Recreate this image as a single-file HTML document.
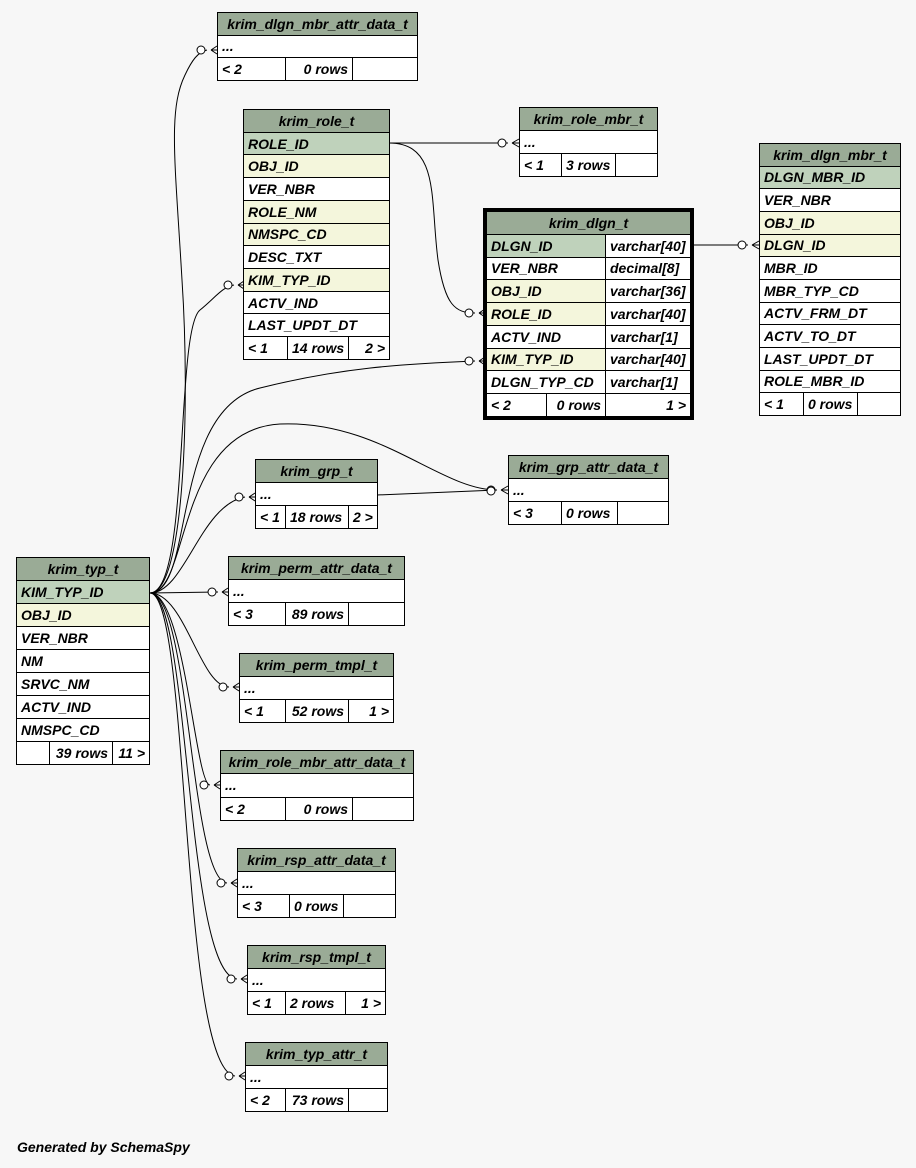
<!DOCTYPE html>
<html><head><meta charset="utf-8"><style>
body{margin:0;width:916px;height:1168px;background:#f7f7f7;position:relative;overflow:hidden;font-family:"Liberation Sans",sans-serif}
table{position:absolute;border-collapse:collapse;background:#fff;font-style:italic;font-weight:bold;font-size:14px;table-layout:fixed}
td{border:1px solid #000;padding:0 0 0 4px;white-space:nowrap;overflow:hidden;line-height:14px}
td.h{background:#9aab96;text-align:center;padding:0}
.pk td,td.pk{background:#bfd2bb}
.fk td,td.fk{background:#f4f6dc}
td.r{text-align:right;padding-right:4px}
.ft{position:absolute;left:17px;top:1139px;font-style:italic;font-weight:bold;font-size:14px}
</style></head><body>
<svg width="916" height="1168" style="position:absolute;left:0;top:0" fill="none" stroke="#000" stroke-width="1">
<path d="M150,593 C185,593 190,400 182,280 C175,160 168,110 185,75 C192,60 198,52 207,50"/>
<path d="M150,593 C190,593 175,330 200,310 C215,298 222,287 234,285"/>
<path d="M150,593 C195,593 170,410 260,388 C340,368 400,364 475,361"/>
<path d="M150,593 C190,593 175,430 280,424 C380,420 440,490 497,490"/>
<path d="M150,593 C185,593 200,505 245,497"/>
<path d="M150,593 L218,592"/>
<path d="M150,593 C185,593 200,687 229,687"/>
<path d="M150,593 C185,593 195,785 210,785"/>
<path d="M150,593 C190,593 190,880 227,883"/>
<path d="M150,593 C190,593 185,975 237,979"/>
<path d="M150,593 C190,593 180,1070 235,1076"/>
<path d="M389,143 L508,143"/>
<path d="M389,143 C440,143 430,200 438,260 C445,305 455,313 475,313"/>
<path d="M693,245 L748,245"/>
<path d="M377,495 L497,490"/>
<g fill="#fff">
<circle cx="201" cy="50" r="4"/><circle cx="228" cy="285" r="4"/><circle cx="469" cy="361" r="4"/><circle cx="491" cy="490" r="4"/><circle cx="239" cy="497" r="4"/><circle cx="212" cy="592" r="4"/><circle cx="223" cy="687" r="4"/><circle cx="204" cy="785" r="4"/><circle cx="221" cy="883" r="4"/><circle cx="231" cy="979" r="4"/><circle cx="229" cy="1076" r="4"/><circle cx="502" cy="143" r="4"/><circle cx="469" cy="313" r="4"/><circle cx="742" cy="245" r="4"/><circle cx="491" cy="491" r="4"/>
</g>
<g>
<path d="M211,50 L217,46 M211,50 L217,50 M211,50 L217,54"/>
<path d="M238,285 L244,281 M238,285 L244,285 M238,285 L244,289"/>
<path d="M479,361 L485,357 M479,361 L485,361 M479,361 L485,365"/>
<path d="M501,490 L508,486 M501,490 L508,490 M501,490 L508,494"/>
<path d="M249,497 L255,493 M249,497 L255,497 M249,497 L255,501"/>
<path d="M222,592 L228,588 M222,592 L228,592 M222,592 L228,596"/>
<path d="M233,687 L239,683 M233,687 L239,687 M233,687 L239,691"/>
<path d="M214,785 L220,781 M214,785 L220,785 M214,785 L220,789"/>
<path d="M231,883 L237,879 M231,883 L237,883 M231,883 L237,887"/>
<path d="M241,979 L247,975 M241,979 L247,979 M241,979 L247,983"/>
<path d="M239,1076 L245,1072 M239,1076 L245,1076 M239,1076 L245,1080"/>
<path d="M512,143 L519,139 M512,143 L519,143 M512,143 L519,147"/>
<path d="M479,313 L485,309 M479,313 L485,313 M479,313 L485,317"/>
<path d="M752,245 L759,241 M752,245 L759,245 M752,245 L759,249"/>
</g>
</svg>

<table style="left:217px;top:12px;width:201px;height:69px"><colgroup><col style="width:68px"><col style="width:67px"><col></colgroup>
<tr><td class="h" colspan="3">krim_dlgn_mbr_attr_data_t</td></tr><tr><td colspan="3">...</td></tr><tr><td>&lt; 2</td><td class="r">0 rows</td><td></td></tr></table>

<table style="left:243px;top:109px;width:147px;height:251px"><colgroup><col style="width:44px"><col style="width:61px"><col></colgroup>
<tr><td class="h" colspan="3">krim_role_t</td></tr>
<tr class="pk"><td colspan="3">ROLE_ID</td></tr>
<tr class="fk"><td colspan="3">OBJ_ID</td></tr>
<tr><td colspan="3">VER_NBR</td></tr>
<tr class="fk"><td colspan="3">ROLE_NM</td></tr>
<tr class="fk"><td colspan="3">NMSPC_CD</td></tr>
<tr><td colspan="3">DESC_TXT</td></tr>
<tr class="fk"><td colspan="3">KIM_TYP_ID</td></tr>
<tr><td colspan="3">ACTV_IND</td></tr>
<tr><td colspan="3">LAST_UPDT_DT</td></tr>
<tr><td>&lt; 1</td><td>14 rows</td><td class="r">2 &gt;</td></tr></table>

<table style="left:519px;top:107px;width:139px;height:70px"><colgroup><col style="width:42px"><col style="width:54px"><col></colgroup>
<tr><td class="h" colspan="3">krim_role_mbr_t</td></tr><tr><td colspan="3">...</td></tr><tr><td>&lt; 1</td><td>3 rows</td><td></td></tr></table>

<table style="left:759px;top:143px;width:142px;height:273px"><colgroup><col style="width:44px"><col style="width:54px"><col></colgroup>
<tr><td class="h" colspan="3">krim_dlgn_mbr_t</td></tr>
<tr class="pk"><td colspan="3">DLGN_MBR_ID</td></tr>
<tr><td colspan="3">VER_NBR</td></tr>
<tr class="fk"><td colspan="3">OBJ_ID</td></tr>
<tr class="fk"><td colspan="3">DLGN_ID</td></tr>
<tr><td colspan="3">MBR_ID</td></tr>
<tr><td colspan="3">MBR_TYP_CD</td></tr>
<tr><td colspan="3">ACTV_FRM_DT</td></tr>
<tr><td colspan="3">ACTV_TO_DT</td></tr>
<tr><td colspan="3">LAST_UPDT_DT</td></tr>
<tr><td colspan="3">ROLE_MBR_ID</td></tr>
<tr><td>&lt; 1</td><td>0 rows</td><td></td></tr></table>

<div style="position:absolute;left:483px;top:208px;width:205px;height:206px;border:3px solid #000"></div>
<table style="left:486px;top:211px;width:205px;height:206px"><colgroup><col style="width:60px"><col style="width:59px"><col></colgroup>
<tr><td class="h" colspan="3">krim_dlgn_t</td></tr>
<tr><td class="pk" colspan="2">DLGN_ID</td><td>varchar[40]</td></tr>
<tr><td colspan="2">VER_NBR</td><td>decimal[8]</td></tr>
<tr><td class="fk" colspan="2">OBJ_ID</td><td>varchar[36]</td></tr>
<tr><td class="fk" colspan="2">ROLE_ID</td><td>varchar[40]</td></tr>
<tr><td colspan="2">ACTV_IND</td><td>varchar[1]</td></tr>
<tr><td class="fk" colspan="2">KIM_TYP_ID</td><td>varchar[40]</td></tr>
<tr><td colspan="2">DLGN_TYP_CD</td><td>varchar[1]</td></tr>
<tr><td>&lt; 2</td><td class="r">0 rows</td><td class="r">1 &gt;</td></tr></table>

<table style="left:255px;top:459px;width:123px;height:70px"><colgroup><col style="width:30px"><col style="width:63px"><col></colgroup>
<tr><td class="h" colspan="3">krim_grp_t</td></tr><tr><td colspan="3">...</td></tr><tr><td>&lt; 1</td><td>18 rows</td><td>2 &gt;</td></tr></table>

<table style="left:508px;top:455px;width:161px;height:70px"><colgroup><col style="width:53px"><col style="width:56px"><col></colgroup>
<tr><td class="h" colspan="3">krim_grp_attr_data_t</td></tr><tr><td colspan="3">...</td></tr><tr><td>&lt; 3</td><td>0 rows</td><td></td></tr></table>

<table style="left:16px;top:557px;width:134px;height:208px"><colgroup><col style="width:33px"><col style="width:63px"><col></colgroup>
<tr><td class="h" colspan="3">krim_typ_t</td></tr>
<tr class="pk"><td colspan="3">KIM_TYP_ID</td></tr>
<tr class="fk"><td colspan="3">OBJ_ID</td></tr>
<tr><td colspan="3">VER_NBR</td></tr>
<tr><td colspan="3">NM</td></tr>
<tr><td colspan="3">SRVC_NM</td></tr>
<tr><td colspan="3">ACTV_IND</td></tr>
<tr><td colspan="3">NMSPC_CD</td></tr>
<tr><td></td><td class="r">39 rows</td><td class="r">11 &gt;</td></tr></table>

<table style="left:228px;top:556px;width:177px;height:70px"><colgroup><col style="width:57px"><col style="width:63px"><col></colgroup>
<tr><td class="h" colspan="3">krim_perm_attr_data_t</td></tr><tr><td colspan="3">...</td></tr><tr><td>&lt; 3</td><td class="r">89 rows</td><td></td></tr></table>

<table style="left:239px;top:653px;width:155px;height:70px"><colgroup><col style="width:46px"><col style="width:63px"><col></colgroup>
<tr><td class="h" colspan="3">krim_perm_tmpl_t</td></tr><tr><td colspan="3">...</td></tr><tr><td>&lt; 1</td><td class="r">52 rows</td><td class="r">1 &gt;</td></tr></table>

<table style="left:220px;top:750px;width:194px;height:71px"><colgroup><col style="width:65px"><col style="width:67px"><col></colgroup>
<tr><td class="h" colspan="3">krim_role_mbr_attr_data_t</td></tr><tr><td colspan="3">...</td></tr><tr><td>&lt; 2</td><td class="r">0 rows</td><td></td></tr></table>

<table style="left:237px;top:848px;width:159px;height:70px"><colgroup><col style="width:52px"><col style="width:54px"><col></colgroup>
<tr><td class="h" colspan="3">krim_rsp_attr_data_t</td></tr><tr><td colspan="3">...</td></tr><tr><td>&lt; 3</td><td>0 rows</td><td></td></tr></table>

<table style="left:247px;top:945px;width:139px;height:70px"><colgroup><col style="width:38px"><col style="width:60px"><col></colgroup>
<tr><td class="h" colspan="3">krim_rsp_tmpl_t</td></tr><tr><td colspan="3">...</td></tr><tr><td>&lt; 1</td><td>2 rows</td><td class="r">1 &gt;</td></tr></table>

<table style="left:245px;top:1042px;width:143px;height:70px"><colgroup><col style="width:40px"><col style="width:63px"><col></colgroup>
<tr><td class="h" colspan="3">krim_typ_attr_t</td></tr><tr><td colspan="3">...</td></tr><tr><td>&lt; 2</td><td class="r">73 rows</td><td></td></tr></table>

<div class="ft">Generated by SchemaSpy</div>
</body></html>
